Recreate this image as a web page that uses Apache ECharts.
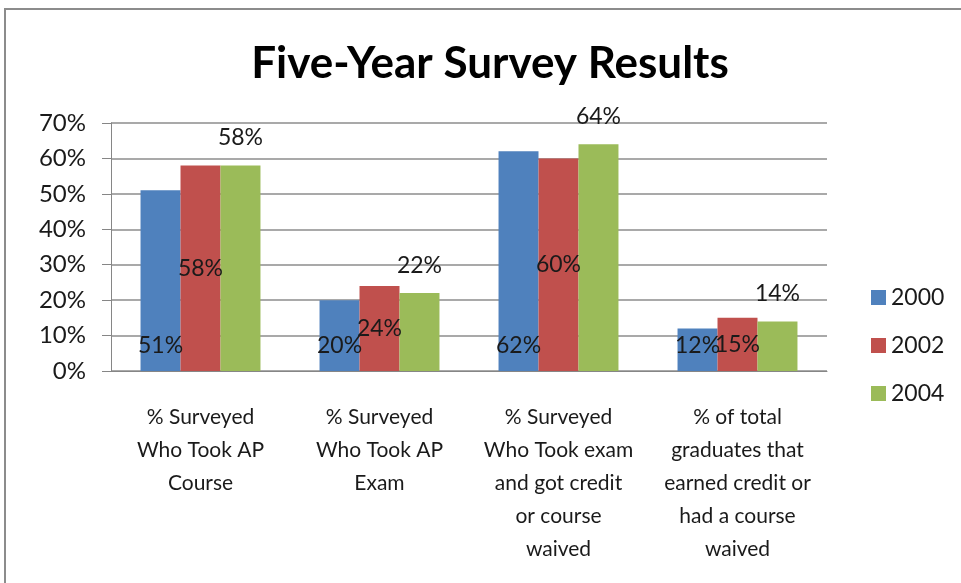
<!DOCTYPE html>
<html>
<head>
<meta charset="utf-8">
<script src="https://cdn.jsdelivr.net/npm/echarts@6/dist/echarts.min.js"></script>
<style>
  html, body { margin: 0; padding: 0; background: #fff; }
  #surveyChart { width: 961px; height: 583px; }
</style>
</head>
<body>
<div id="surveyChart"></div>
<script>
  // categories and values
  var categories = [
    '% Surveyed\nWho Took AP\nCourse',
    '% Surveyed\nWho Took AP\nExam',
    '% Surveyed\nWho Took exam\nand got credit\nor course\nwaived',
    '% of total\ngraduates that\nearned credit or\nhad a course\nwaived'
  ];
  var years = ['2000', '2002', '2004'];
  var data2000 = [51, 20, 62, 12];
  var data2002 = [58, 24, 60, 15];
  var data2004 = [58, 22, 64, 14];

  var font = 'Lato';
  var chart = echarts.init(document.getElementById('surveyChart'));

  function labelOf(pos, dist) {
    return {
      show: true,
      position: pos,
      distance: dist,
      formatter: '{c}%',
      color: '#1a1a1a',
      fontSize: 23,
      fontFamily: font
    };
  }

  chart.setOption({
    animation: false,
    graphic: [{
      type: 'rect',
      shape: {x: 5, y: 9, width: 1000, height: 700},
      style: {fill: 'none', stroke: '#8c8c8c', lineWidth: 2}
    }],
    title: {
      text: 'Five-Year Survey Results',
      left: 485,
      textAlign: 'center',
      top: 37,
      textStyle: {fontFamily: font, fontWeight: 'bold', fontSize: 44, color: '#000'}
    },
    legend: {
      orient: 'vertical',
      left: 866,
      top: 281,
      itemWidth: 15,
      itemHeight: 15,
      itemGap: 25,
      icon: 'rect',
      data: years,
      textStyle: {fontFamily: font, fontSize: 23, color: '#1a1a1a'}
    },
    grid: {left: 111, right: 134, top: 123, bottom: 212},
    xAxis: {
      type: 'category',
      data: categories,
      axisLine: {lineStyle: {color: '#868686'}},
      axisTick: {length: 9, lineStyle: {color: '#868686'}},
      axisLabel: {
        interval: 0,
        margin: 30,
        fontFamily: font,
        fontSize: 21,
        lineHeight: 33,
        color: '#1a1a1a',
        align: 'center'
      }
    },
    yAxis: {
      type: 'value',
      min: 0,
      max: 70,
      interval: 10,
      axisLine: {show: true, lineStyle: {color: '#868686'}},
      axisTick: {show: true, length: 9, lineStyle: {color: '#868686'}},
      splitLine: {lineStyle: {color: '#8c8c8c', width: 1.5}},
      axisLabel: {formatter: '{value}%', fontFamily: font, fontSize: 24, color: '#1a1a1a', margin: 25}
    },
    series: [
      {
        name: '2000', type: 'bar', data: data2000,
        barGap: '0%', barCategoryGap: '33%',
        itemStyle: {color: '#4f81bd'},
        label: labelOf('insideBottom', 14)
      },
      {
        name: '2002', type: 'bar', data: data2002,
        barGap: '0%', barCategoryGap: '33%',
        itemStyle: {color: '#c0504d'},
        label: labelOf('inside', 0)
      },
      {
        name: '2004', type: 'bar', data: data2004,
        barGap: '0%', barCategoryGap: '33%',
        itemStyle: {color: '#9bbb59'},
        label: labelOf('top', 16)
      }
    ]
  });
</script>
</body>
</html>
